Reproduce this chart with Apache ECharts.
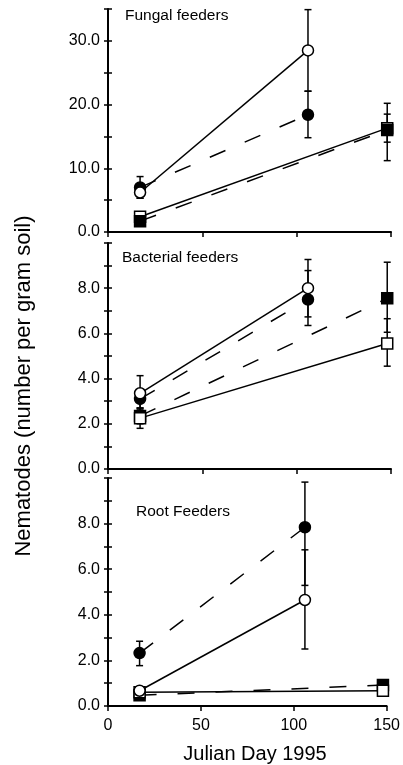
<!DOCTYPE html>
<html>
<head>
<meta charset="utf-8">
<script src="https://cdn.jsdelivr.net/npm/echarts@6/dist/echarts.min.js"></script>
<style>
  html, body { margin: 0; padding: 0; background: #fff; }
  #chart { width: 403px; height: 765px; }
</style>
</head>
<body>
<div id="chart"></div>
<script>
// sampling days
const circleDays = [17, 106]
const squareDays = [17, 148]

// Fungal feeders: means and [down, up] error
const fungalOpenCircle = [6.2, 28.5]
const fungalOpenCircleErr = [[0.9, 0.9], [6.4, 6.4]]
const fungalFilledCircle = [7.0, 18.4]
const fungalFilledCircleErr = [[1.7, 1.7], [3.6, 3.7]]
const fungalOpenSquare = [2.4, 16.3]
const fungalOpenSquareErr = [[0.5, 0.5], [2.2, 2.2]]
const fungalFilledSquare = [1.7, 16.0]
const fungalFilledSquareErr = [[0.3, 0.3], [4.8, 4.2]]

// Bacterial feeders
const bactOpenCircle = [3.35, 8.0]
const bactOpenCircleErr = [[0.78, 0.78], [1.27, 1.27]]
const bactFilledCircle = [3.1, 7.5]
const bactFilledCircleErr = [[0.4, 0.4], [1.15, 1.28]]
const bactOpenSquare = [2.25, 5.55]
const bactOpenSquareErr = [[0.45, 0.4], [1.0, 1.1]]
const bactFilledSquare = [2.35, 7.55]
const bactFilledSquareErr = [[0.35, 0.35], [1.5, 1.6]]

// Root feeders
const rootOpenCircle = [0.67, 4.65]
const rootOpenCircleErr = [[0.15, 0.15], [2.15, 2.2]]
const rootFilledCircle = [2.32, 7.84]
const rootFilledCircleErr = [[0.55, 0.52], [2.55, 1.98]]
const rootOpenSquare = [0.6, 0.67]
const rootOpenSquareErr = [[0.05, 0.05], [0.1, 0.1]]
const rootFilledSquare = [0.47, 0.92]
const rootFilledSquareErr = [[0.05, 0.05], [0.1, 0.1]]

const panelTitles = ['Fungal feeders', 'Bacterial feeders', 'Root Feeders']
const yMax = [35, 10, 10]
const yStep = [5, 1, 1]
const yLabelStep = [10, 2, 2]
const xTicks = { min: 0, max: 150, interval: 50 }

const FONT = '"Liberation Sans", Arial, sans-serif'
const grids = [
  { left: 108, top: 9, width: 283, height: 223 },
  { left: 108, top: 243, width: 283, height: 226 },
  { left: 108, top: 478, width: 283, height: 228 }
]

function xAxisFor(gi) {
  return {
    type: 'value', gridIndex: gi, min: xTicks.min, max: xTicks.max, interval: xTicks.interval,
    axisLine: { lineStyle: { color: '#000', width: 2 } },
    axisTick: { length: 5, lineStyle: { color: '#000', width: 1.5 } },
    axisLabel: { show: gi === 2, color: '#000', fontSize: 16, fontFamily: FONT, margin: 12 },
    splitLine: { show: false }
  }
}

function yAxesFor(gi) {
  const base = {
    type: 'value', gridIndex: gi, position: 'left', min: 0, max: yMax[gi], interval: yStep[gi],
    splitLine: { show: false }
  }
  return [
    Object.assign({}, base, {
      axisLine: { show: true, lineStyle: { color: '#000', width: 2 } },
      axisTick: { show: true, length: 4, lineStyle: { color: '#000', width: 1.5 } },
      axisLabel: {
        color: '#000', fontSize: 16, fontFamily: FONT, margin: 8,
        formatter: v => (v % yLabelStep[gi] === 0 && v < yMax[gi]) ? v.toFixed(1) : ''
      }
    }),
    Object.assign({}, base, {
      axisLine: { show: false },
      axisTick: { show: true, inside: true, length: 4, lineStyle: { color: '#000', width: 1.5 } },
      axisLabel: { show: false }
    })
  ]
}

function lineSeries(gi, days, vals, symbol, filled, dashed) {
  return {
    type: 'line', xAxisIndex: gi, yAxisIndex: gi * 2, z: 3,
    data: days.map((d, i) => [d, vals[i]]),
    symbol: symbol, symbolSize: 11, showSymbol: true,
    itemStyle: { color: filled ? '#000' : '#fff', borderColor: '#000', borderWidth: 1.5 },
    lineStyle: { color: '#000', width: 1.5, type: dashed ? [17, 21] : 'solid' },
    emphasis: { disabled: true }, silent: true
  }
}

function errorSeries(gi, days, vals, errs) {
  return {
    type: 'custom', xAxisIndex: gi, yAxisIndex: gi * 2, z: 1, silent: true,
    data: days.map((d, i) => [d, vals[i] - errs[i][0], vals[i] + errs[i][1]]),
    encode: { x: 0, y: [1, 2] },
    renderItem(params, api) {
      const lo = api.coord([api.value(0), api.value(1)])
      const hi = api.coord([api.value(0), api.value(2)])
      const w = 3.5
      const st = { stroke: '#000', lineWidth: 1.5 }
      return {
        type: 'group',
        children: [
          { type: 'line', shape: { x1: lo[0], y1: lo[1], x2: hi[0], y2: hi[1] }, style: st },
          { type: 'line', shape: { x1: lo[0] - w, y1: lo[1], x2: lo[0] + w, y2: lo[1] }, style: st },
          { type: 'line', shape: { x1: hi[0] - w, y1: hi[1], x2: hi[0] + w, y2: hi[1] }, style: st }
        ]
      }
    }
  }
}

function panel(gi, oc, ocE, fc, fcE, os, osE, fs, fsE, filledSquareOnTop) {
  const sq = [
    lineSeries(gi, squareDays, fs, 'rect', true, true),
    lineSeries(gi, squareDays, os, 'rect', false, false)
  ]
  if (filledSquareOnTop) sq.reverse()
  return [
    errorSeries(gi, circleDays, oc, ocE),
    errorSeries(gi, circleDays, fc, fcE),
    errorSeries(gi, squareDays, os, osE),
    errorSeries(gi, squareDays, fs, fsE),
    ...sq,
    lineSeries(gi, circleDays, fc, 'circle', true, true),
    lineSeries(gi, circleDays, oc, 'circle', false, false)
  ]
}

const series = [
  ...panel(0, fungalOpenCircle, fungalOpenCircleErr, fungalFilledCircle, fungalFilledCircleErr,
    fungalOpenSquare, fungalOpenSquareErr, fungalFilledSquare, fungalFilledSquareErr, true),
  ...panel(1, bactOpenCircle, bactOpenCircleErr, bactFilledCircle, bactFilledCircleErr,
    bactOpenSquare, bactOpenSquareErr, bactFilledSquare, bactFilledSquareErr, false),
  ...panel(2, rootOpenCircle, rootOpenCircleErr, rootFilledCircle, rootFilledCircleErr,
    rootOpenSquare, rootOpenSquareErr, rootFilledSquare, rootFilledSquareErr, false)
]

const titlePos = [[125, 17], [122, 259], [136, 513]]

const chart = echarts.init(document.getElementById('chart'))
chart.setOption({
  animation: false,
  backgroundColor: '#fff',
  grid: grids,
  xAxis: [0, 1, 2].map(xAxisFor),
  yAxis: [0, 1, 2].flatMap(yAxesFor),
  series: series,
  graphic: [
    ...panelTitles.map((t, i) => ({
      type: 'text', left: titlePos[i][0], top: titlePos[i][1] - 9,
      style: { text: t, fill: '#000', font: '15.5px ' + FONT }
    })),
    {
      type: 'text', x: 24, y: 386, rotation: Math.PI / 2,
      style: { text: 'Nematodes (number per gram soil)', fill: '#000', font: '22px ' + FONT,
        align: 'center', verticalAlign: 'middle' }
    },
    {
      type: 'text', x: 255, y: 754,
      style: { text: 'Julian Day 1995', fill: '#000', font: '20px ' + FONT,
        align: 'center', verticalAlign: 'middle' }
    }
  ]
})
</script>
</body>
</html>
